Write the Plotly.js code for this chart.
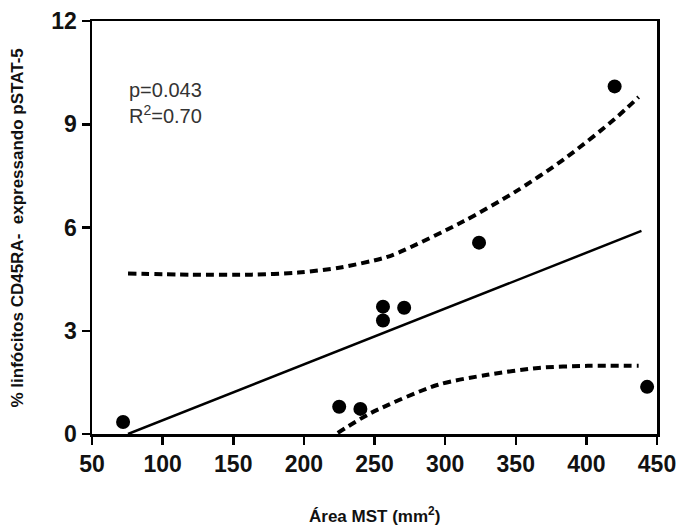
<!DOCTYPE html>
<html>
<head>
<meta charset="utf-8">
<script src="https://cdn.plot.ly/plotly-3.0.1.min.js"></script>
<style>html,body{margin:0;padding:0;background:#fff;}#chart{width:683px;height:531px;}</style>
</head>
<body>
<div id="chart"></div>
<script>
// Data
const areaMST = [72, 225, 240, 256, 256, 271, 324, 420, 443];
const pctCells = [0.35, 0.79, 0.73, 3.7, 3.3, 3.67, 5.56, 10.1, 1.37];

const fitX = [75.5, 439];
const fitY = [0, 5.9];

const upperX = [75.5, 120, 163, 196, 226, 257, 267, 313, 349, 384, 420, 437];
const upperY = [4.66, 4.63, 4.63, 4.69, 4.84, 5.12, 5.27, 6.18, 7.02, 7.98, 9.15, 9.79];

const lowerX = [224, 247.5, 295, 330, 366, 401, 437];
const lowerY = [0.03, 0.61, 1.43, 1.72, 1.92, 1.98, 1.98];

const xTicks = [50, 100, 150, 200, 250, 300, 350, 400, 450];
const yTicks = [0, 3, 6, 9, 12];

const traces = [
  {x: upperX, y: upperY, mode: 'lines', line: {color: '#000', width: 4, dash: '8px,5px', shape: 'spline', smoothing: 0.8}, hoverinfo: 'skip'},
  {x: lowerX, y: lowerY, mode: 'lines', line: {color: '#000', width: 4, dash: '8px,5px', shape: 'spline', smoothing: 0.8}, hoverinfo: 'skip'},
  {x: fitX, y: fitY, mode: 'lines', line: {color: '#000', width: 2.5}, hoverinfo: 'skip'},
  {x: areaMST, y: pctCells, mode: 'markers', marker: {color: '#000', size: 14}, cliponaxis: false}
];

const tickFont = {family: 'Liberation Sans, Arial, sans-serif', size: 23, color: '#111', weight: 'bold'};

const layout = {
  width: 683, height: 531,
  margin: {l: 92, r: 26, t: 21, b: 97},
  paper_bgcolor: '#fff', plot_bgcolor: '#fff',
  showlegend: false,
  xaxis: {
    range: [50, 450], tickvals: xTicks, ticktext: xTicks.map(String),
    showgrid: false, zeroline: false,
    showline: true, linecolor: '#000', linewidth: 2.5, mirror: true,
    ticks: 'outside', ticklen: 8, tickwidth: 2.5, tickcolor: '#000',
    tickfont: tickFont
  },
  yaxis: {
    range: [0, 12], tickvals: yTicks, ticktext: yTicks.map(String),
    showgrid: false, zeroline: false,
    showline: true, linecolor: '#000', linewidth: 2.5, mirror: true,
    ticks: 'outside', ticklen: 8, tickwidth: 2.5, tickcolor: '#000',
    tickfont: tickFont
  },
  annotations: [
    {text: 'p=0.043<br>R<sup>2</sup>=0.70', xref: 'paper', yref: 'paper', x: 0.062, y: 0.865,
     xanchor: 'left', yanchor: 'top', align: 'left', showarrow: false,
     font: {family: 'Liberation Sans, Arial, sans-serif', size: 20, color: '#333'}},
    {text: 'Área MST (mm<sup>2</sup>)', xref: 'paper', yref: 'paper', x: 0.5, y: -0.195,
     xanchor: 'center', yanchor: 'middle', showarrow: false,
     font: {family: 'Liberation Sans, Arial, sans-serif', size: 17, color: '#111', weight: 'bold'}},
    {text: '% linfócitos CD45RA-  expressando pSTAT-5', xref: 'paper', yref: 'paper', x: -0.131, y: 0.5,
     xanchor: 'center', yanchor: 'middle', textangle: -90, showarrow: false,
     font: {family: 'Liberation Sans, Arial, sans-serif', size: 17, color: '#111', weight: 'bold'}}
  ]
};

Plotly.newPlot('chart', traces, layout, {displayModeBar: false, staticPlot: true});
</script>
</body>
</html>
